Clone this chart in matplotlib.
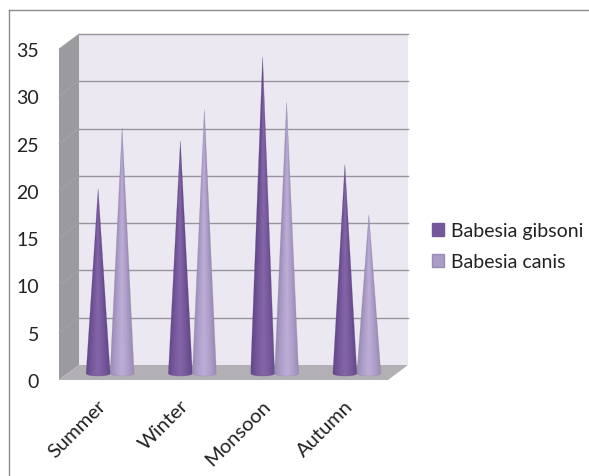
import numpy as np
import matplotlib
matplotlib.use('Agg')
import matplotlib.pyplot as plt
from matplotlib.colors import LinearSegmentedColormap
from matplotlib.lines import Line2D
from matplotlib.patches import Patch, Polygon
from matplotlib.transforms import ScaledTranslation

seasons = ['Summer', 'Winter', 'Monsoon', 'Autumn']
gibsoni = [19.5, 24.6, 33.5, 22.1]
canis = [26.0, 27.9, 28.7, 16.8]
y_ticks = [0, 5, 10, 15, 20, 25, 30, 35]

W, H = 589, 477
px_per_x = 82.25
px_per_y = 331 / 35
dx = 20 / px_per_x
dy = 15 / px_per_y
half_w = 12 / px_per_x
half_e = 2.5 / px_per_y
base_y = 6.5 / px_per_y

plt.rcParams['font.family'] = ['Lato', 'DejaVu Sans']

fig = plt.figure(figsize=(W / 100, H / 100), dpi=100, facecolor='white')
ax = fig.add_axes([59 / W, 1 - 381 / H, 329 / W, 331 / H])
ax.set_xlim(-0.5, 3.5)
ax.set_ylim(0, 35)
for s in ax.spines.values():
    s.set_visible(False)
ax.patch.set_visible(False)

x0, x1 = -0.5, 3.5
# back wall, left wall, floor
ax.add_patch(Polygon([(x0 + dx, dy), (x1 + dx, dy), (x1 + dx, 35 + dy), (x0 + dx, 35 + dy)],
                     fc='#ebe8f1', ec='none', clip_on=False, zorder=1))
ax.add_patch(Polygon([(x0, 0), (x0 + dx, dy), (x0 + dx, 35 + dy), (x0, 35)],
                     fc='#9b9a9f', ec='none', clip_on=False, zorder=1))
ax.add_patch(Polygon([(x0, 0), (x1, 0), (x1 + dx, dy), (x0 + dx, dy)],
                     fc='#b2afb5', ec='none', clip_on=False, zorder=1))
for v in y_ticks:
    if v > 0:
        ax.plot([x0 + dx, x1 + dx], [v + dy, v + dy], color='#98949e', lw=1.0, clip_on=False, zorder=2)
        ax.plot([x0, x0 + dx], [v, v + dy], color='#a6a5aa', lw=0.6, clip_on=False, zorder=2)


def cone(xc, val, cmap, edge):
    u = np.linspace(-1, 1, 80)
    h = np.linspace(0, 1, 300)
    U, V = np.meshgrid(u, h)
    t = np.clip(np.abs(U) / np.maximum(1 - V, 0.01), 0, 1)
    im = ax.imshow(t, extent=(xc - half_w, xc + half_w, base_y - half_e, base_y + val),
                   origin='lower', cmap=cmap, vmin=0, vmax=1, aspect='auto',
                   interpolation='bilinear', zorder=3)
    a = np.linspace(np.pi, 2 * np.pi, 30)
    pts = [(xc, base_y + val)] + list(zip(xc + half_w * np.cos(a), base_y + half_e * np.sin(a)))
    clip = Polygon(pts, transform=ax.transData, fc='none', ec='none')
    im.set_clip_path(clip)
    ax.add_patch(Polygon(pts, fc='none', ec=edge, lw=0.4, alpha=0.4, zorder=4))


dark = LinearSegmentedColormap.from_list('dark', ['#8465a9', '#775a9c', '#64498b'])
light = LinearSegmentedColormap.from_list('light', ['#bcaed7', '#afa0cb', '#9a8db5'])
for i in range(len(seasons)):
    cone(i + dx / 2 - half_w, gibsoni[i], dark, '#5a4480')
    cone(i + dx / 2 + half_w, canis[i], light, '#857a9c')

ax.set_xlim(-0.5, 3.5)
ax.set_ylim(0, 35)
ax.set_yticks(y_ticks)
ax.set_xticks(range(len(seasons)))
ax.set_xticklabels(seasons, rotation=45, ha='right', rotation_mode='anchor')
ax.tick_params(axis='y', length=0, pad=14.5, labelsize=14, labelcolor='#222222')
ax.tick_params(axis='x', length=0, pad=12, labelsize=14.5, labelcolor='#222222')
shift = ScaledTranslation(-3 / 100, 0, fig.dpi_scale_trans)
for lab in ax.get_xticklabels():
    lab.set_transform(lab.get_transform() + shift)

handles = [Patch(fc='#75589b', ec='#75589b', label='Babesia gibsoni'),
           Patch(fc='#ab9cc7', ec='#9a8cb5', label='Babesia canis')]
fig.legend(handles=handles, loc='center left', bbox_to_anchor=(432 / W, 1 - 247 / H),
           frameon=False, fontsize=14, handlelength=0.64, handleheight=0.64,
           handletextpad=0.36, labelspacing=0.72, borderpad=0, borderaxespad=0,
           labelcolor='#222222')

# outer chart frame, cropped at the right and bottom
fig.add_artist(Line2D([8.5 / W, 8.5 / W], [0, 1 - 10.5 / H], color='#8a8a8a', lw=1))
fig.add_artist(Line2D([8.5 / W, 1], [1 - 10.5 / H, 1 - 10.5 / H], color='#8a8a8a', lw=1))

fig.savefig('out.png', dpi=100)
